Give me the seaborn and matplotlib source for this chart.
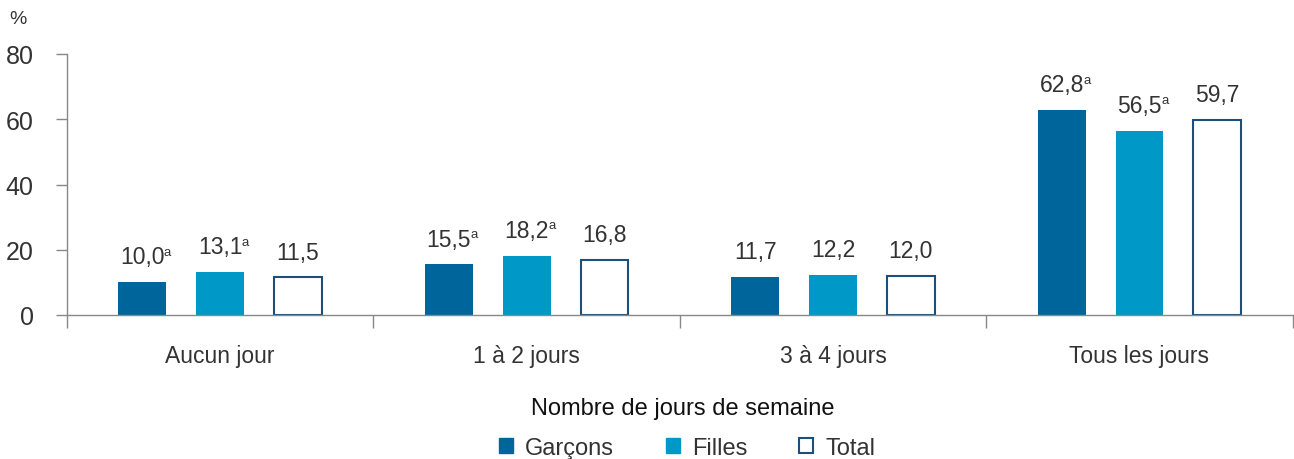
import numpy as np
import pandas as pd
import seaborn as sns
import matplotlib.pyplot as plt
from matplotlib.patches import Patch

# Data
categories = ["Aucun jour", "1 à 2 jours", "3 à 4 jours", "Tous les jours"]
groups = ["Garçons", "Filles", "Total"]
garcons = [10.0, 15.5, 11.7, 62.8]
filles = [13.1, 18.2, 12.2, 56.5]
total = [11.5, 16.8, 12.0, 59.7]
# superscript "a" flags
garcons_sup = [True, True, False, True]
filles_sup = [True, True, False, True]
total_sup = [False, False, False, False]

colors = ["#00659a", "#0099c7", "#ffffff"]
edge_total = "#1d4f7c"
txt = "#333333"

df = pd.DataFrame({
    "cat": categories * 3,
    "grp": np.repeat(groups, len(categories)),
    "val": garcons + filles + total,
    "sup": garcons_sup + filles_sup + total_sup,
})

sns.set_theme(style="white")
plt.rcParams['font.family'] = ['Liberation Sans', 'DejaVu Sans']

fig = plt.figure(figsize=(12.94, 4.6), dpi=100)
ax = fig.add_axes([67 / 1294, 144 / 460, 1 - 67 / 1294 - 0.001, 261 / 460])

sns.barplot(data=df, x="cat", y="val", hue="grp", palette=colors,
            width=0.762, gap=0.386, saturation=1, legend=False, ax=ax)

# outline for the Total bars
for cont, g in zip(ax.containers, groups):
    for bar in cont:
        if g == "Total":
            bar.set_edgecolor(edge_total)
            bar.set_linewidth(1.5)
        else:
            bar.set_linewidth(0)

# value labels
for cont, g in zip(ax.containers, groups):
    sub = df[df.grp == g]
    for bar, v, s in zip(cont, sub.val, sub.sup):
        x = bar.get_x() + bar.get_width() / 2
        t = ax.annotate(f"{v:.1f}".replace(".", ","), xy=(x, v), xytext=(0, 10),
                        textcoords="offset points", ha="center", va="bottom",
                        fontsize=16.5, color=txt)
        if s:
            ax.annotate("a", xy=(1, 0.98), xycoords=t, xytext=(-0.5, 0),
                        textcoords="offset points", ha="left", va="top",
                        fontsize=9.5, color=txt)

ax.set_ylim(0, 80)
ax.set_xlim(-0.5, 3.5)
ax.set_yticks([0, 20, 40, 60, 80])
ax.tick_params(axis="y", left=True, length=8, width=1, color="#888888",
               labelsize=18, labelcolor=txt, pad=16)
ax.tick_params(axis="x", which="major", length=0, labelsize=16.5,
               labelcolor=txt, pad=21)
ax.set_xticks(np.arange(-0.5, 4, 1), minor=True)
ax.tick_params(axis="x", which="minor", bottom=True, length=9, width=1,
               color="#888888", direction="out")
ax.set_xlabel("")
ax.set_ylabel("")
for side in ["top", "right"]:
    ax.spines[side].set_visible(False)
for side in ["left", "bottom"]:
    ax.spines[side].set_color("#888888")
    ax.spines[side].set_linewidth(1)

fig.text(9 / 1294, 1 - 20 / 460, "%", fontsize=14, color=txt, va="center")
fig.text(0.528, 1 - 409 / 460, "Nombre de jours de semaine", fontsize=17,
         color="#111111", ha="center", va="center")

handles = [Patch(facecolor=colors[0], edgecolor=colors[0]),
           Patch(facecolor=colors[1], edgecolor=colors[1]),
           Patch(facecolor="white", edgecolor=edge_total, linewidth=1.5)]
fig.legend(handles, groups, loc="center", bbox_to_anchor=(0.531, 1 - 449 / 460),
           ncol=3, frameon=False, fontsize=17, handlelength=0.6,
           handleheight=0.6, handletextpad=0.5, columnspacing=2.2,
           labelcolor=txt)

fig.savefig("out.png", dpi=100)
